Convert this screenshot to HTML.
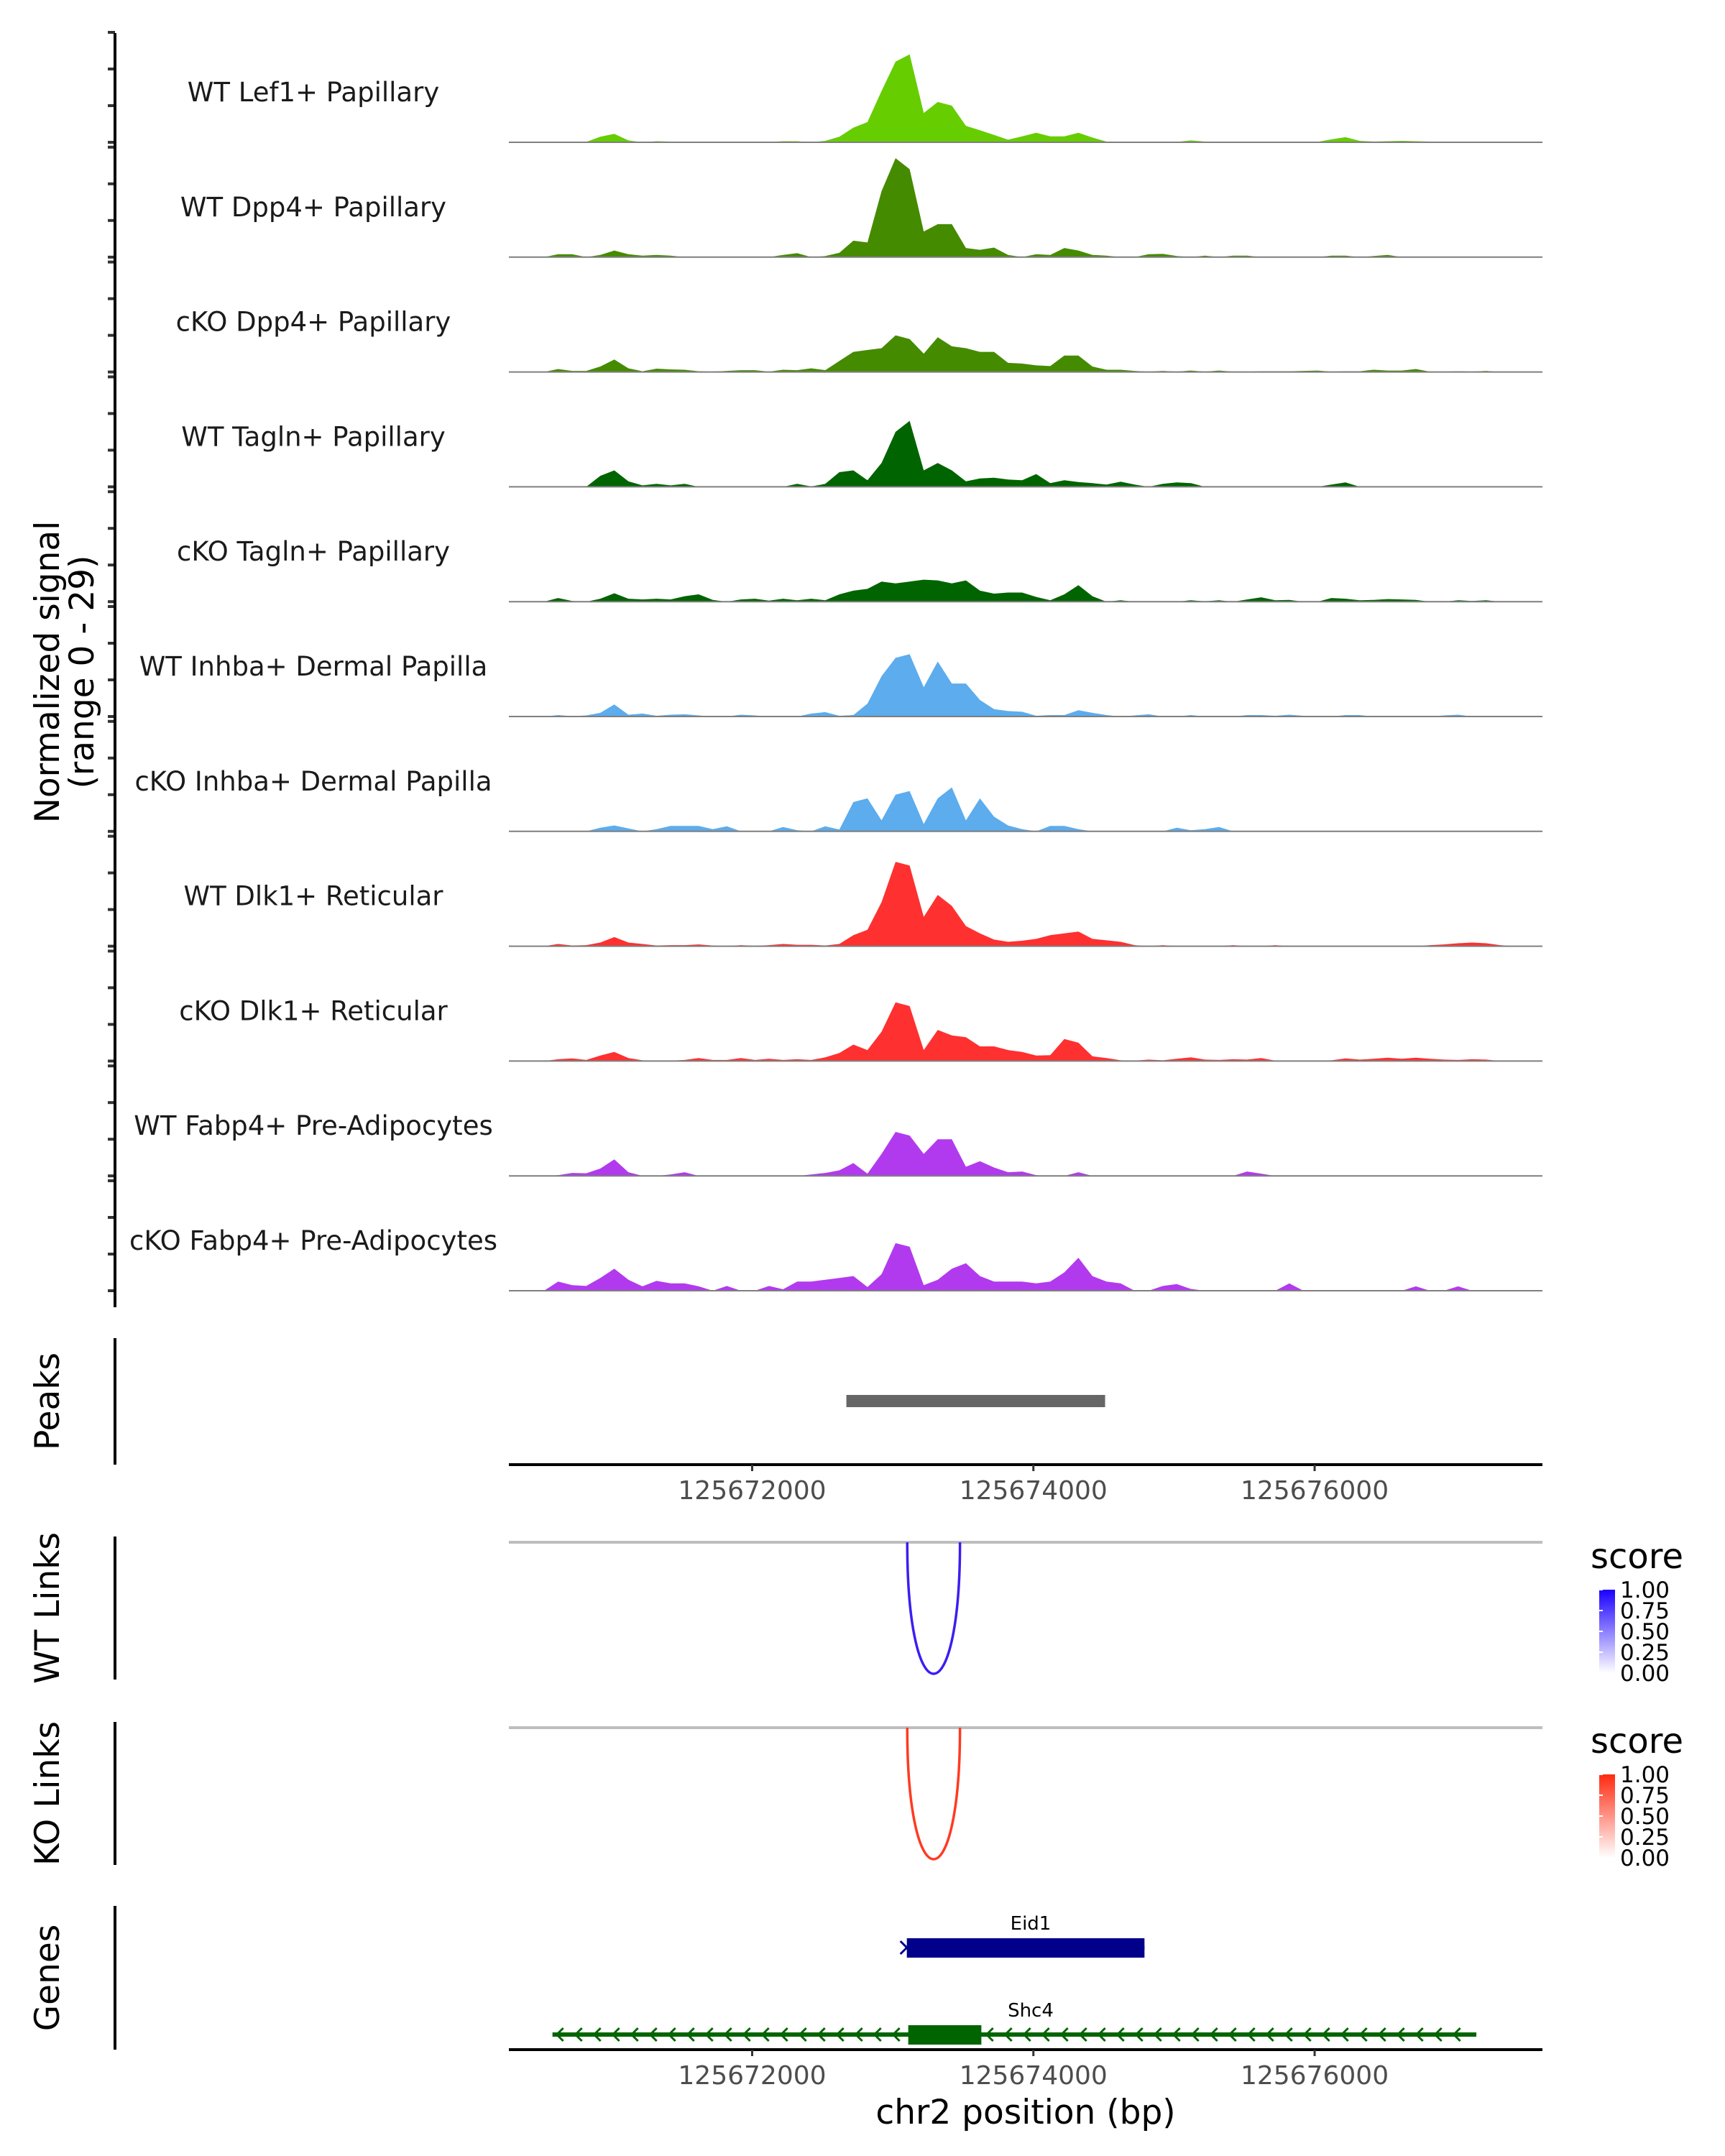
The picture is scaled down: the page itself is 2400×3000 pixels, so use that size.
<!DOCTYPE html>
<html><head><meta charset="utf-8"><style>
html,body{margin:0;padding:0;background:#fff}
svg{display:block;font-family:"DejaVu Sans","Liberation Sans",sans-serif}
</style></head><body>
<svg id="chart" width="2400" height="3000" viewBox="0 0 2400 3000" xmlns="http://www.w3.org/2000/svg">
<rect width="2400" height="3000" fill="#fff"/>
<g id="tracks"></g>
<g id="yaxis"></g>
<text transform="translate(82,935) rotate(-90)" text-anchor="middle" font-size="47" fill="#000">Normalized signal</text>
<text transform="translate(130,935) rotate(-90)" text-anchor="middle" font-size="47" fill="#000">(range 0 - 29)</text>
<g id="peaks"></g>
<g id="links"></g>
<g id="genes"></g>
</svg>
<script>
const categories = ["WT Lef1+ Papillary","WT Dpp4+ Papillary","cKO Dpp4+ Papillary","WT Tagln+ Papillary","cKO Tagln+ Papillary","WT Inhba+ Dermal Papilla","cKO Inhba+ Dermal Papilla","WT Dlk1+ Reticular","cKO Dlk1+ Reticular","WT Fabp4+ Pre-Adipocytes","cKO Fabp4+ Pre-Adipocytes"];
const trackColors = ["#66CD00","#458B00","#458B00","#006400","#006400","#5CACEE","#5CACEE","#FF3030","#FF3030","#B23AEE","#B23AEE"];
const regionStart = 125670270;
const regionEnd = 125677620;
const binSize = 100;
const yMax = 29;
const yTicks = [0,10,20,30];
const xTicks = [125672000,125674000,125676000];
const sWTLef1 = [0,0,0,0.1,0,0.1,1.5,2.3,0.5,0,0.3,0.2,0.1,0.1,0.1,0.1,0.1,0.1,0.1,0.3,0.3,0,0.4,1.5,4,5.5,14,22,24,8,11,10,4.5,3.3,2,0.7,1.6,2.6,1.6,1.6,2.6,1.3,0.2,0.1,0.1,0.1,0.1,0.1,0.5,0.2,0.1,0.1,0.1,0.1,0.1,0.1,0.1,0.1,0.8,1.4,0.4,0.2,0.3,0.4,0.3,0.2,0.1,0.1,0.1,0.1,0.1,0,0,0];
const sWTDpp4 = [0,0,0,0.8,0.8,0,0.6,1.8,0.8,0.4,0.6,0.4,0,0,0,0,0,0,0,0.6,1.1,0,0.3,1.2,4.5,4,18,27,24,7,9,9,2.5,2,2.6,0.6,0,0.8,0.6,2.5,1.8,0.6,0.4,0,0,0.8,0.9,0.3,0,0.4,0,0.4,0.4,0,0,0,0,0,0.4,0.4,0,0.3,0.6,0,0,0,0,0,0,0,0,0,0,0];
const sKODpp4 = [0,0,0,0.8,0.3,0.3,1.5,3.4,1,0.2,0.9,0.7,0.6,0.2,0.1,0.3,0.5,0.5,0.1,0.6,0.5,1,0.5,3,5.5,6,6.5,10,9,5,9.5,7,6.5,5.5,5.5,2.5,2.3,1.8,1.6,4.5,4.5,1.5,0.6,0.6,0.3,0.1,0.3,0.1,0.4,0.1,0.4,0.1,0.1,0.2,0.2,0.2,0.3,0.4,0.1,0.2,0.2,0.6,0.4,0.4,0.8,0.1,0.1,0.2,0.1,0.3,0,0,0,0];
const sWTTagln = [0,0,0,0,0,0,3,4.5,1.5,0.4,0.8,0.4,0.8,0,0,0,0,0,0,0,0.8,0.1,0.8,4,4.5,1.8,6.5,15,18,4.5,6.5,4.5,1.5,2.3,2.5,2,1.8,3.5,1,1.8,1.3,1,0.6,1.4,0.6,0,0.8,1.2,1,0,0,0,0,0,0,0,0,0,0.6,1.2,0,0,0,0,0,0,0,0,0,0,0,0,0,0];
const sKOTagln = [0,0,0,1,0.2,0,0.8,2.3,0.8,0.6,0.8,0.6,1.5,2,0.5,0,0.6,0.8,0.3,0.8,0.4,0.8,0.4,2,3,3.5,5.5,5,5.5,6,5.8,5,5.8,3,2.2,2.5,2.5,1.3,0.4,2,4.5,1.5,0,0.4,0,0,0,0,0.4,0.1,0.4,0,0.6,1.2,0.4,0.5,0,0,1,0.8,0.4,0.5,0.7,0.6,0.5,0,0,0.4,0.2,0.4,0,0,0,0];
const sWTInhba = [0,0,0,0.4,0.1,0.3,1,3.3,0.5,0.8,0.2,0.5,0.6,0.3,0,0,0.5,0.3,0,0,0,0.8,1.2,0.2,0.4,3.5,11,16,17,8,15,9,9,4.5,2,1.5,1.3,0.2,0.4,0.4,1.7,1,0.4,0,0.3,0.6,0,0,0.4,0,0,0,0.4,0.4,0.2,0.5,0.2,0,0,0.4,0.4,0,0,0,0,0,0.3,0.5,0,0,0,0,0,0];
const sKOInhba = [0,0,0,0,0,0,1,1.6,0.8,0,0.6,1.5,1.5,1.5,0.6,1.4,0,0,0,1.2,0.3,0,1.4,0.5,8,9,3,10,11,2,9,12,3,9,4,1.6,0.6,0,1.5,1.5,0.6,0,0,0,0,0,0,1,0.3,0.6,1.2,0,0,0,0,0,0,0,0,0,0,0,0,0,0,0,0,0,0,0,0,0,0,0];
const sWTDlk1 = [0,0,0,0.6,0.2,0.3,1,2.5,1,0.6,0.2,0.3,0.3,0.5,0.2,0,0.3,0.1,0.3,0.6,0.4,0.4,0.2,0.6,3,4.5,12,23,22,8,14,11,5.5,3.5,1.8,1.2,1.5,2,3,3.5,4,2,1.6,1.2,0.3,0,0.3,0,0,0,0,0.3,0,0,0.3,0,0,0,0,0,0,0,0,0,0,0.3,0.5,0.8,1,0.8,0.3,0,0,0];
const sKODlk1 = [0,0,0,0.5,0.7,0.3,1.5,2.5,0.8,0.2,0,0.1,0.3,0.8,0.3,0.3,0.8,0.3,0.6,0.3,0.5,0.3,1,2.2,4.5,3,8,16,15,3,8.5,7,6.5,4,4,3,2.5,1.5,1.6,6,5,1.3,0.8,0.2,0.1,0.4,0.2,0.6,1,0.4,0.3,0.5,0.4,0.8,0.1,0.1,0.1,0.1,0.2,0.7,0.4,0.6,0.9,0.6,0.9,0.6,0.4,0.3,0.5,0.4,0,0,0,0];
const sWTFabp4 = [0,0,0,0.2,0.8,0.7,2,4.5,1,0,0,0.4,1,0,0,0,0,0,0,0,0,0.4,0.8,1.5,3.5,0.6,6,12,11,6,10,10,2.5,4,2.3,1,1.2,0.2,0,0,1,0,0,0,0,0,0,0,0,0,0,0,1.2,0.6,0,0,0,0,0,0,0,0,0,0,0,0,0,0,0,0,0,0,0,0];
const sKOFabp4 = [0,0,0,2.5,1.5,1.3,3.5,6,3,1.2,2.7,2,2,1.2,0,1.3,0,0,1.3,0.4,2.5,2.5,3,3.5,4,1,4.5,13,12,1.5,3,6,7.5,4,2.5,2.5,2.5,2,2.5,5,9,4,2.5,2,0,0,1.3,1.8,0.5,0,0,0,0,0,0,2,0,0,0,0,0,0,0,0,1.2,0,0,1.2,0,0,0,0,0,0];
const seriesValues = [sWTLef1,sWTDpp4,sKODpp4,sWTTagln,sKOTagln,sWTInhba,sKOInhba,sWTDlk1,sKODlk1,sWTFabp4,sKOFabp4];
const peakStarts = [125672670];
const peakEnds = [125674510];
const wtLinkStart = [125673103];
const wtLinkEnd = [125673478];
const wtLinkScore = [1];
const koLinkStart = [125673103];
const koLinkEnd = [125673478];
const koLinkScore = [1];
const geneNames = ["Eid1","Shc4"];
const geneStarts = [125673100,125670580];
const geneEnds = [125674790,125677150];
const exonStarts = [125673100,125673110];
const exonEnds = [125674790,125673630];
const legendTicks = ["1.00","0.75","0.50","0.25","0.00"];

const NS="http://www.w3.org/2000/svg";
const X0=708, X1=2146;
function xs(bp){return X0+(bp-regionStart)*(X1-X0)/(regionEnd-regionStart);}
const unitPx=5.1;
const base0=198, trackStep=159.8;
function mk(tag,attrs,parent){const e=document.createElementNS(NS,tag);for(const k in attrs)e.setAttribute(k,attrs[k]);parent.appendChild(e);return e;}

const tracks=document.getElementById('tracks');
const yaxis=document.getElementById('yaxis');
categories.forEach((cat,i)=>{
  const b=base0+trackStep*i;
  const vals=seriesValues[i];
  let pts=[[xs(regionStart),b]];
  vals.forEach((v,k)=>{pts.push([xs(regionStart+binSize*k+binSize/2), b-Math.min(v,yMax)*unitPx]);});
  pts.push([xs(regionStart+binSize*vals.length),b]);
  const poly=mk('polygon',{points:pts.map(p=>p[0].toFixed(1)+','+p[1].toFixed(1)).join(' '),fill:trackColors[i]},tracks);
  
  
  const bl=mk('line',{x1:X0,x2:X1,y1:b,y2:b,stroke:'#7f7f7f','stroke-width':2},tracks);
  
  
  const t=mk('text',{x:436,y:b-57,'text-anchor':'middle','font-size':37,fill:'#1a1a1a'},tracks);
  t.textContent=cat;
  
  
  yTicks.forEach(tv=>{
    const ty=b-tv*unitPx;
    const tk=mk('line',{x1:150,x2:160,y1:ty,y2:ty,stroke:'#333','stroke-width':4},yaxis);
    
    
  });
});
const ax=mk('line',{x1:160,x2:160,y1:46,y2:1819,stroke:'#000','stroke-width':4},yaxis);



function sideAxis(y1,y2,label,g){
  const l=mk('line',{x1:160,x2:160,y1:y1,y2:y2,stroke:'#000','stroke-width':4},g);
  
  
  const t=mk('text',{transform:`translate(82,${(y1+y2)/2}) rotate(-90)`,'text-anchor':'middle','font-size':47,fill:'#000'},g);
  t.textContent=label;
  
  
}
function xAxis(y,g){
  const l=mk('line',{x1:X0,x2:X1,y1:y,y2:y,stroke:'#000','stroke-width':4},g);
  
  
  xTicks.forEach(v=>{
    const tk=mk('line',{x1:xs(v),x2:xs(v),y1:y,y2:y+9,stroke:'#333','stroke-width':3},g);
    
    
    const tl=mk('text',{x:xs(v),y:y+48,'text-anchor':'middle','font-size':36,fill:'#4d4d4d'},g);
    tl.textContent=v;
    
    
  });
}
const pk=document.getElementById('peaks');
sideAxis(1862,2038,'Peaks',pk);
peakStarts.forEach((s,i)=>{
  const r=mk('rect',{x:xs(s),y:1941,width:xs(peakEnds[i])-xs(s),height:17,fill:'#666'},pk);
  
  
});
xAxis(2038,pk);
const lk=document.getElementById('links');
function linkTrack(top,bottom,label,starts,ends,scores,color,lgTop,grad){
  sideAxis(top,bottom,label,lk);
  const lineY=top+8;
  const gl=mk('line',{x1:X0,x2:X1,y1:lineY,y2:lineY,stroke:'#bebebe','stroke-width':4},lk);
  
  
  starts.forEach((s,i)=>{
    const a=xs(s), b=xs(ends[i]);
    const depth=(bottom-8-lineY)*scores[i];
    const c=lineY+depth/0.75;
    const p=mk('path',{d:`M${a},${lineY} C${a},${c} ${b},${c} ${b},${lineY}`,fill:'none',stroke:color,'stroke-width':3.5},lk);
    
    
  });
  const st=mk('text',{x:2213,y:lgTop-30,'font-size':48,fill:'#000'},lk);
  st.textContent='score';
  
  
  const bar=mk('rect',{x:2225,y:lgTop,width:22,height:116,fill:`url(#${grad})`},lk);
  
  
  legendTicks.forEach((t,i)=>{
    const yy=lgTop+i*29;
    const tm=mk('line',{x1:2225,x2:2230,y1:yy,y2:yy,stroke:'#fff','stroke-width':2},lk);
    
    
    const tl=mk('text',{x:2254,y:yy+11,'font-size':31,fill:'#000'},lk);
    tl.textContent=t;
    
    
  });
}
const defs=mk('defs',{},document.getElementById('chart'));
function grad(id,c){const g=mk('linearGradient',{id:id,x1:0,y1:1,x2:0,y2:0},defs);mk('stop',{offset:0,'stop-color':'#fff'},g);mk('stop',{offset:1,'stop-color':c},g);}
grad('gblue','#1a00ff');grad('gred','#ff2a10');
linkTrack(2138,2337,'WT Links',wtLinkStart,wtLinkEnd,wtLinkScore,'#3b1ef2',2212,'gblue');
linkTrack(2396,2595,'KO Links',koLinkStart,koLinkEnd,koLinkScore,'#ff3a22',2469,'gred');
const gn=document.getElementById('genes');
sideAxis(2652,2852,'Genes',gn);
const rows=[2710,2831], colors=['#00008B','#006400'];
geneNames.forEach((n,i)=>{
  const y=rows[i];
  const ln=mk('line',{x1:xs(geneStarts[i]),x2:xs(geneEnds[i]),y1:y,y2:y,stroke:colors[i],'stroke-width':6},gn);
  
  
  if(i===1){
    for(let x=xs(geneStarts[i])+6;x<xs(geneEnds[i])-10;x+=26){
      const ch=mk('polyline',{points:`${x+9},${y-9} ${x},${y} ${x+9},${y+9}`,fill:'none',stroke:colors[i],'stroke-width':3},gn);
      
      
    }
  } else {
    const ch=mk('polyline',{points:`${xs(geneStarts[i])-9},${y-9} ${xs(geneStarts[i])},${y} ${xs(geneStarts[i])-9},${y+9}`,fill:'none',stroke:colors[i],'stroke-width':3},gn);
    
    
  }
  const ex=mk('rect',{x:xs(exonStarts[i]),y:y-13,width:xs(exonEnds[i])-xs(exonStarts[i]),height:27,fill:colors[i]},gn);
  
  
  const lb=mk('text',{x:1434,y:y-25,'text-anchor':'middle','font-size':26,fill:'#000'},gn);
  lb.textContent=n;
  
  
});
xAxis(2852,gn);
const xt=mk('text',{x:1427,y:2955,'text-anchor':'middle','font-size':47,fill:'#000'},gn);
xt.textContent='chr2 position (bp)';


</script>
</body></html>
